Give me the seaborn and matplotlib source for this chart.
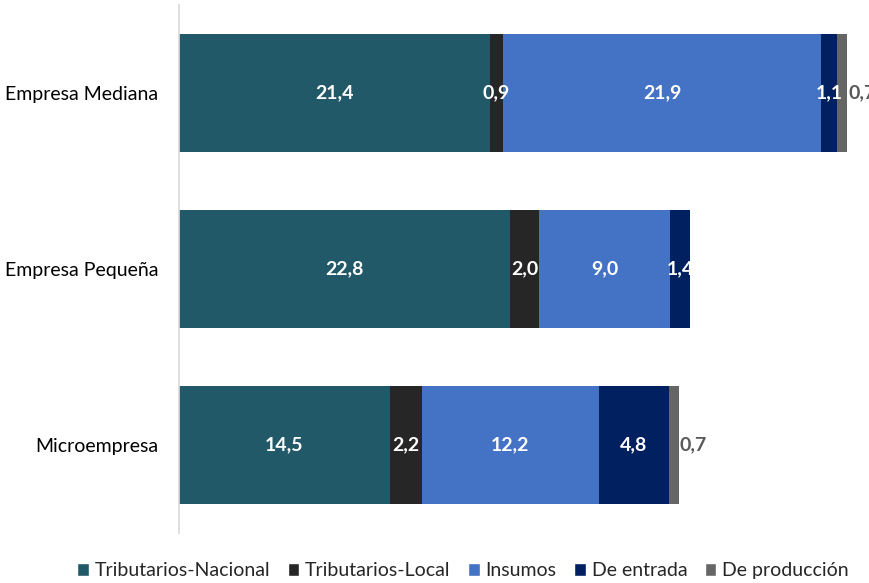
import matplotlib
matplotlib.use("Agg")
import matplotlib.pyplot as plt
from matplotlib.patches import Patch
import numpy as np
import pandas as pd
import seaborn as sns

# data
companies = ["Empresa Mediana", "Empresa Pequeña", "Microempresa"]
series = ["Tributarios-Nacional", "Tributarios-Local", "Insumos", "De entrada", "De producción"]
trib_nacional = [21.4, 22.8, 14.5]
trib_local = [0.9, 2.0, 2.2]
insumos = [21.9, 9.0, 12.2]
de_entrada = [1.1, 1.4, 4.8]
de_produccion = [0.7, 0.0, 0.7]

colors = ["#215968", "#262626", "#4472C4", "#002060", "#666666"]
label_colors = ["white", "white", "white", "white", "#595959"]

sns.set_theme(style="white")
plt.rcParams["font.family"] = ["Lato", "DejaVu Sans"]

values = np.array([trib_nacional, trib_local, insumos, de_entrada, de_produccion])
cum = values.cumsum(axis=0)
df = pd.DataFrame(cum.T, columns=series)
df["Empresa"] = companies

fig = plt.figure(figsize=(8.7, 5.83), dpi=100)
ax = fig.add_axes([179 / 870, 50 / 583, 1 - 179 / 870, 528 / 583])

# stacked bars: draw cumulative totals from the largest down
for i in range(len(series) - 1, -1, -1):
    sns.barplot(data=df, x=series[i], y="Empresa", order=companies, color=colors[i],
                orient="h", errorbar=None, width=0.67, saturation=1, linewidth=0, ax=ax)

# value labels
for i, name in enumerate(series):
    for j in range(len(companies)):
        v = values[i, j]
        if v <= 0:
            continue
        txt = f"{v:.1f}".replace(".", ",")
        if i == len(series) - 1:
            ax.text(cum[i, j] + 0.05, j, txt, ha="left", va="center", fontsize=14,
                    fontweight="bold", color=label_colors[i], clip_on=False)
        else:
            ax.text(cum[i, j] - v / 2, j, txt, ha="center", va="center", fontsize=14,
                    fontweight="bold", color=label_colors[i])

ax.set_xlim(0, (870 - 179) / 14.53)
ax.set_ylim(2.5, -0.5)
ax.set_xlabel("")
ax.set_ylabel("")
ax.set_xticks([])
ax.tick_params(axis="y", length=0, pad=15, labelsize=14, labelcolor="black")
for side in ["top", "right", "bottom"]:
    ax.spines[side].set_visible(False)
ax.spines["left"].set_color("#D9D9D9")

handles = [Patch(facecolor=c, label=s) for c, s in zip(colors, series)]
fig.legend(handles=handles, loc="center", bbox_to_anchor=(0.532, 0.021), ncol=5,
           frameon=False, fontsize=14, handlelength=0.6, handleheight=0.6,
           handletextpad=0.3, columnspacing=0.9)

fig.savefig("out.png", dpi=100)
